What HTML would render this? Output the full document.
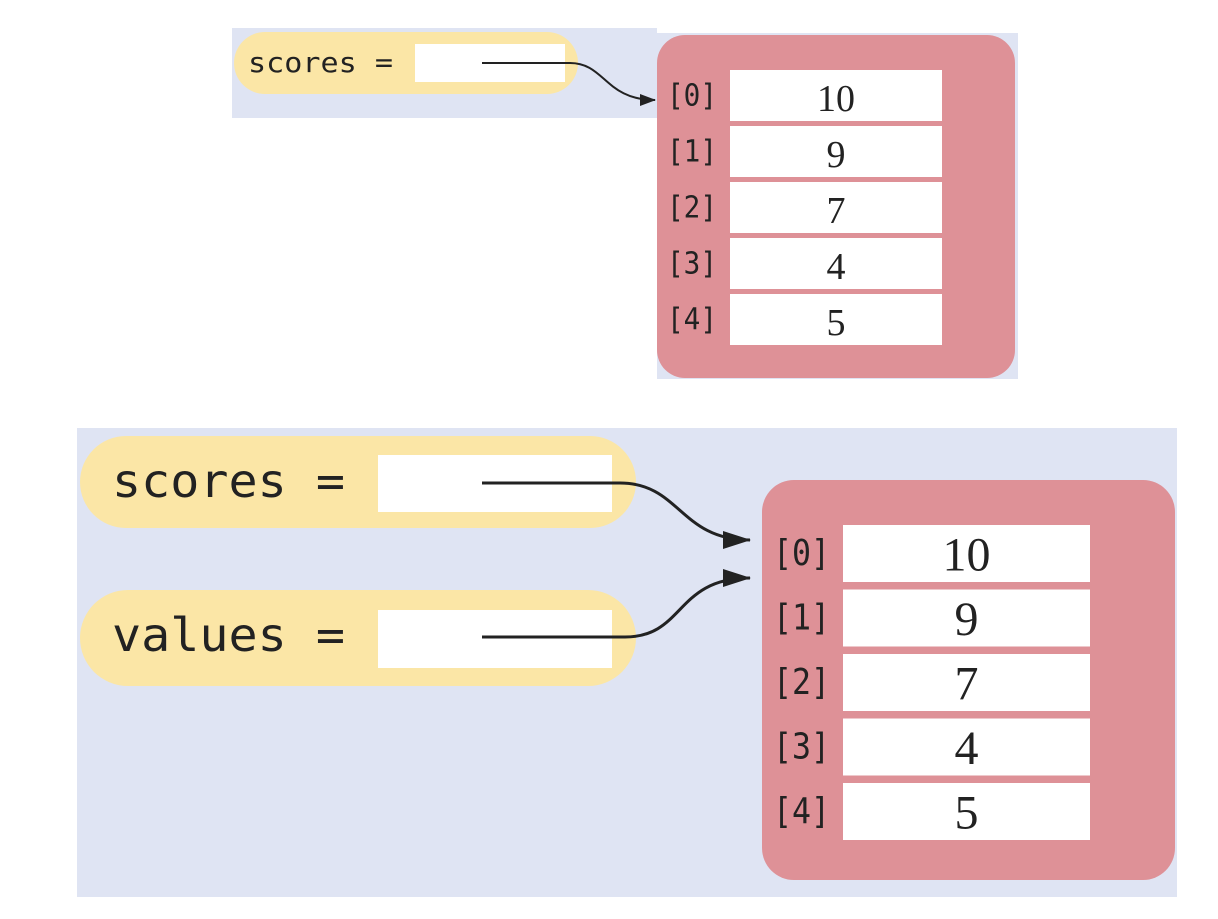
<!DOCTYPE html>
<html><head><meta charset="utf-8"><style>
html,body{margin:0;padding:0;background:#fff;width:1218px;height:919px;overflow:hidden}
svg{display:block}
.mono{font-family:"DejaVu Sans Mono","Liberation Mono",monospace;fill:#222}
.serif{font-family:"Liberation Serif",serif;fill:#222}
</style></head><body>
<svg id="dia" width="1218" height="919" viewBox="0 0 1218 919">
<defs><marker id="ah" markerWidth="16" markerHeight="12" refX="15" refY="6" orient="auto" markerUnits="userSpaceOnUse"><path d="M0,0 L16,6 L0,12 Z" fill="#222"/></marker>
<marker id="ah2" markerWidth="28" markerHeight="18" refX="27" refY="9" orient="auto" markerUnits="userSpaceOnUse"><path d="M0,0 L28,9 L0,18 Z" fill="#222"/></marker></defs>
<g>
<rect x="232" y="28" width="425" height="90" fill="#dfe4f3"/>
<rect x="657" y="33" width="361" height="346" fill="#dfe4f3"/>
<rect x="234" y="32" width="344" height="62" rx="31" fill="#fbe6a6"/>
<text x="248" y="72" font-size="28" textLength="145" lengthAdjust="spacingAndGlyphs" class="mono">scores =</text>
<rect x="415" y="44" width="150" height="38" fill="#fff"/>
<path d="M482,63 L570,63 C605,63 605,100 655,100" fill="none" stroke="#222" stroke-width="2" marker-end="url(#ah)"/>
<rect x="657" y="35" width="358" height="343" rx="28" fill="#de9197"/>
<g id="topCells"></g>
</g>
<g>
<rect x="77" y="428" width="1100" height="469" fill="#dfe4f3"/>
<rect x="80" y="436" width="556" height="92" rx="46" fill="#fbe6a6"/>
<rect x="80" y="590" width="556" height="96" rx="48" fill="#fbe6a6"/>
<text x="112" y="497" font-size="46" textLength="233" lengthAdjust="spacingAndGlyphs" class="mono">scores =</text>
<text x="112" y="651" font-size="46" textLength="233" lengthAdjust="spacingAndGlyphs" class="mono">values =</text>
<rect x="378" y="455" width="234" height="57" fill="#fff"/>
<rect x="378" y="610" width="234" height="58" fill="#fff"/>
<rect x="762" y="480" width="413" height="400" rx="32" fill="#de9197"/>
<path d="M482,483 L620,483 C680,483 680,540 750,540" fill="none" stroke="#222" stroke-width="3" marker-end="url(#ah2)"/>
<path d="M482,637 L625,637 C685,637 675,578 750,578" fill="none" stroke="#222" stroke-width="3" marker-end="url(#ah2)"/>
<g id="botCells"></g>
</g>
</svg>
<script>
const arrayValues = [10, 9, 7, 4, 5];
const indexLabels = ['[0]', '[1]', '[2]', '[3]', '[4]'];
const NS = 'http://www.w3.org/2000/svg';
function drawCells(gid, cfg, prefix) {
  const g = document.getElementById(gid);
  arrayValues.forEach((v, i) => {
    const y = cfg.y0 + i * cfg.step;
    const r = document.createElementNS(NS, 'rect');
    r.setAttribute('x', cfg.cx); r.setAttribute('y', y);
    r.setAttribute('width', cfg.cw); r.setAttribute('height', cfg.ch);
    r.setAttribute('fill', '#fff');
    
    
    g.appendChild(r);
    const l = document.createElementNS(NS, 'text');
    l.setAttribute('x', cfg.lx); l.setAttribute('y', y + cfg.ch * 0.7);
    l.setAttribute('font-size', cfg.lf); l.setAttribute('class', 'mono');
    l.setAttribute('textLength', cfg.lw); l.setAttribute('lengthAdjust', 'spacingAndGlyphs');
    l.textContent = indexLabels[i];
    
    
    g.appendChild(l);
    const t = document.createElementNS(NS, 'text');
    t.setAttribute('x', cfg.cx + cfg.cw / 2); t.setAttribute('y', y + cfg.ch * 0.8);
    t.setAttribute('font-size', cfg.vf); t.setAttribute('class', 'serif');
    t.setAttribute('text-anchor', 'middle');
    t.textContent = v;
    
    
    g.appendChild(t);
  });
}
drawCells('topCells', {y0:70, step:56, cx:730, cw:212, ch:51, lx:667, lf:30, lw:50, vf:38}, 'top');
drawCells('botCells', {y0:525, step:64.5, cx:843, cw:247, ch:57, lx:773, lf:36, lw:57, vf:48}, 'bottom');
</script>
</body></html>
